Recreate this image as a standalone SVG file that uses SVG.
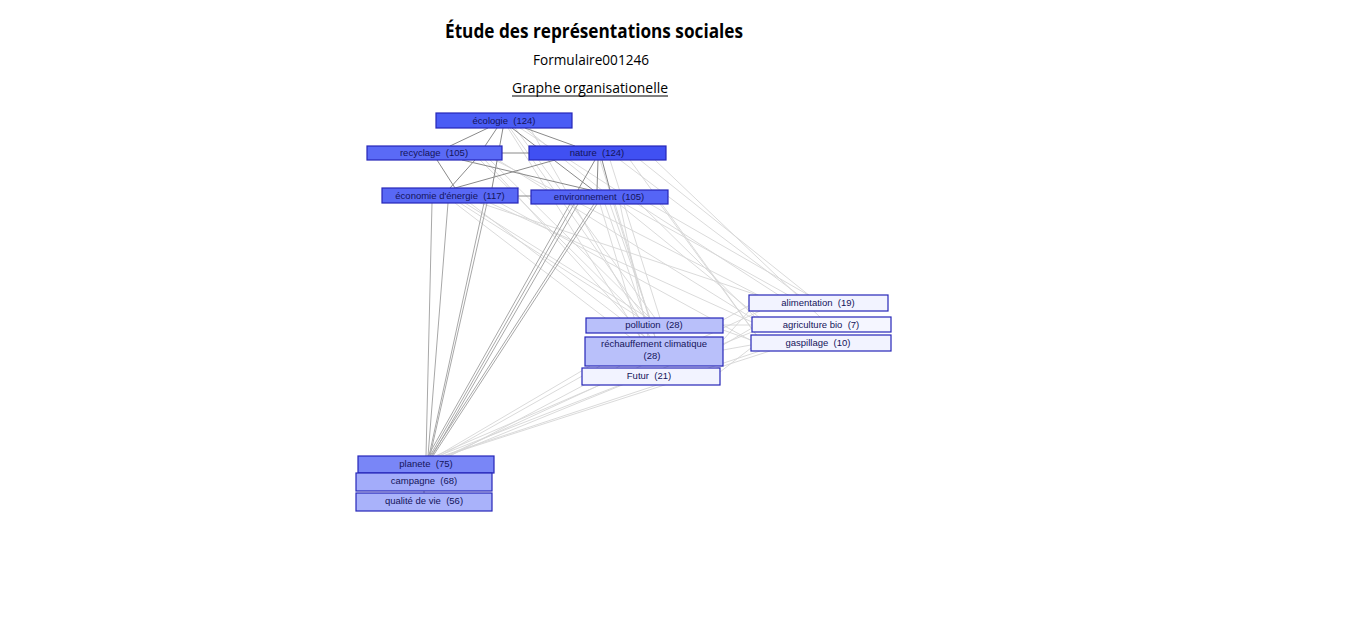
<svg xmlns="http://www.w3.org/2000/svg" width="1360" height="623" viewBox="0 0 1360 623">
<style>
.t1{font-family:"Open Sans","Liberation Sans",sans-serif;font-weight:bold;font-size:19px;fill:#000}
.t2{font-family:"Open Sans","Liberation Sans",sans-serif;font-size:14px;fill:#000}
.lb{font-family:"Liberation Sans",Arial,sans-serif;font-size:9.5px;fill:#14145a;text-anchor:middle;white-space:pre}
.n rect{stroke:#2626b8;stroke-width:1.2}
.dk{stroke:#8a8a8a;stroke-width:1;fill:none}
.md{stroke:#a8a8a8;stroke-width:1;fill:none}
.lt{stroke:#d6d6d6;stroke-width:0.9;fill:none}
</style>
<rect width="1360" height="623" fill="#fff"/>
<text class="t1" x="594" y="38" text-anchor="middle" textLength="298" lengthAdjust="spacingAndGlyphs">Étude des représentations sociales</text>
<text class="t2" x="591" y="65" text-anchor="middle" textLength="116" lengthAdjust="spacingAndGlyphs">Formulaire001246</text>
<text class="t2" x="590" y="93" text-anchor="middle" textLength="156" lengthAdjust="spacingAndGlyphs">Graphe organisationelle</text>
<line x1="512" y1="96" x2="668" y2="96" stroke="#000" stroke-width="1"/>
<g id="connectors">
<g class="lt">
<line x1="510" y1="128" x2="645" y2="318"/><line x1="515" y1="128" x2="655" y2="318"/><line x1="520" y1="128" x2="780" y2="296"/><line x1="525" y1="128" x2="760" y2="318"/><line x1="530" y1="128" x2="650" y2="337"/><line x1="508" y1="128" x2="640" y2="337"/>
<line x1="480" y1="160" x2="640" y2="318"/><line x1="490" y1="160" x2="650" y2="318"/><line x1="495" y1="160" x2="760" y2="296"/><line x1="485" y1="160" x2="645" y2="337"/><line x1="498" y1="160" x2="755" y2="320"/>
<line x1="620" y1="160" x2="800" y2="296"/><line x1="640" y1="160" x2="810" y2="296"/><line x1="655" y1="160" x2="820" y2="317"/><line x1="630" y1="160" x2="760" y2="340"/><line x1="610" y1="160" x2="660" y2="318"/><line x1="600" y1="160" x2="655" y2="337"/>
<line x1="460" y1="203" x2="640" y2="318"/><line x1="470" y1="203" x2="645" y2="337"/><line x1="480" y1="203" x2="760" y2="296"/><line x1="490" y1="203" x2="752" y2="322"/><line x1="500" y1="203" x2="750" y2="340"/><line x1="455" y1="203" x2="630" y2="337"/><line x1="465" y1="203" x2="648" y2="318"/>
<line x1="605" y1="204" x2="645" y2="318"/><line x1="610" y1="204" x2="650" y2="318"/><line x1="615" y1="204" x2="655" y2="337"/><line x1="620" y1="204" x2="648" y2="337"/><line x1="625" y1="204" x2="790" y2="296"/><line x1="650" y1="204" x2="810" y2="296"/><line x1="640" y1="204" x2="760" y2="322"/><line x1="660" y1="204" x2="760" y2="340"/><line x1="600" y1="204" x2="640" y2="337"/>
<line x1="435" y1="456" x2="600" y2="385"/><line x1="438" y1="456" x2="620" y2="385"/><line x1="440" y1="456" x2="600" y2="366"/><line x1="442" y1="456" x2="760" y2="351"/><line x1="444" y1="456" x2="770" y2="351"/><line x1="446" y1="456" x2="760" y2="311"/><line x1="448" y1="456" x2="752" y2="332"/><line x1="437" y1="456" x2="590" y2="366"/><line x1="450" y1="456" x2="620" y2="366"/>
<line x1="723" y1="325" x2="752" y2="325"/><line x1="723" y1="330" x2="751" y2="340"/><line x1="723" y1="345" x2="752" y2="328"/><line x1="723" y1="350" x2="751" y2="345"/><line x1="720" y1="372" x2="751" y2="348"/><line x1="723" y1="320" x2="750" y2="305"/><line x1="723" y1="340" x2="750" y2="310"/>
</g>
<g class="md">
<line x1="432" y1="203" x2="426" y2="456"/><line x1="448" y1="203" x2="428" y2="456"/><line x1="484" y1="203" x2="429" y2="456"/><line x1="487" y1="203" x2="430" y2="456"/>
<line x1="570" y1="204" x2="428" y2="456"/><line x1="574" y1="204" x2="430" y2="456"/><line x1="594" y1="204" x2="431" y2="456"/><line x1="597" y1="204" x2="433" y2="456"/><line x1="578" y1="204" x2="432" y2="456"/>
</g>
<g class="dk">
<line x1="488" y1="128" x2="450" y2="146"/><line x1="497" y1="128" x2="485" y2="146"/><line x1="525" y1="128" x2="575" y2="146"/><line x1="503" y1="128" x2="492" y2="188"/><line x1="512" y1="128" x2="593" y2="190"/>
<line x1="502" y1="153" x2="529" y2="153"/>
<line x1="437" y1="160" x2="455" y2="188"/><line x1="475" y1="160" x2="450" y2="188"/><line x1="462" y1="160" x2="590" y2="190"/>
<line x1="555" y1="160" x2="455" y2="188"/><line x1="595" y1="160" x2="578" y2="190"/><line x1="598" y1="160" x2="597" y2="190"/><line x1="602" y1="160" x2="610" y2="190"/>
<line x1="518" y1="196" x2="531" y2="196"/>
<line x1="424" y1="491" x2="424" y2="493"/>
</g>
</g>
<g id="n-ecologie" class="n"><rect x="436" y="113" width="136" height="15" fill="#4a5cf5"/><text class="lb" x="504" y="124">écologie  (124)</text></g>
<g id="n-recyclage" class="n"><rect x="367" y="146" width="135" height="14" fill="#5a6af6"/><text class="lb" x="434" y="156">recyclage  (105)</text></g>
<g id="n-nature" class="n"><rect x="529" y="146" width="137" height="14" fill="#4050f2"/><text class="lb" x="597" y="156">nature  (124)</text></g>
<g id="n-economie" class="n"><rect x="382" y="188" width="136" height="15" fill="#5868f5"/><text class="lb" x="450" y="199">économie d'énergie  (117)</text></g>
<g id="n-environnement" class="n"><rect x="531" y="190" width="137" height="14" fill="#5565f6"/><text class="lb" x="599" y="200">environnement  (105)</text></g>
<g id="n-alimentation" class="n"><rect x="749" y="295" width="139" height="16" fill="#f2f3ff"/><text class="lb" x="818" y="306">alimentation  (19)</text></g>
<g id="n-pollution" class="n"><rect x="586" y="318" width="137" height="15" fill="#b9c0fa"/><text class="lb" x="654" y="328">pollution  (28)</text></g>
<g id="n-agriculture" class="n"><rect x="752" y="317" width="139" height="15" fill="#f5f6ff"/><text class="lb" x="821" y="328">agriculture bio  (7)</text></g>
<g id="n-rechauffement" class="n"><rect x="585" y="337" width="138" height="29" fill="#b9c0fa"/><text class="lb" x="654" y="347">réchauffement climatique</text><text class="lb" x="652" y="359">(28)</text></g>
<g id="n-gaspillage" class="n"><rect x="751" y="335" width="140" height="16" fill="#f2f3ff"/><text class="lb" x="818" y="346">gaspillage  (10)</text></g>
<g id="n-futur" class="n"><rect x="582" y="368" width="138" height="17" fill="#f2f3ff"/><text class="lb" x="649" y="379">Futur  (21)</text></g>
<g id="n-planete" class="n"><rect x="358" y="456" width="136" height="17" fill="#7986f7"/><text class="lb" x="426" y="467">planete  (75)</text></g>
<g id="n-campagne" class="n"><rect x="356" y="473" width="136" height="18" fill="#a3acfa"/><text class="lb" x="424" y="484">campagne  (68)</text></g>
<g id="n-qualite" class="n"><rect x="356" y="493" width="136" height="18" fill="#a9b2fa"/><text class="lb" x="424" y="504">qualité de vie  (56)</text></g>
</svg>
